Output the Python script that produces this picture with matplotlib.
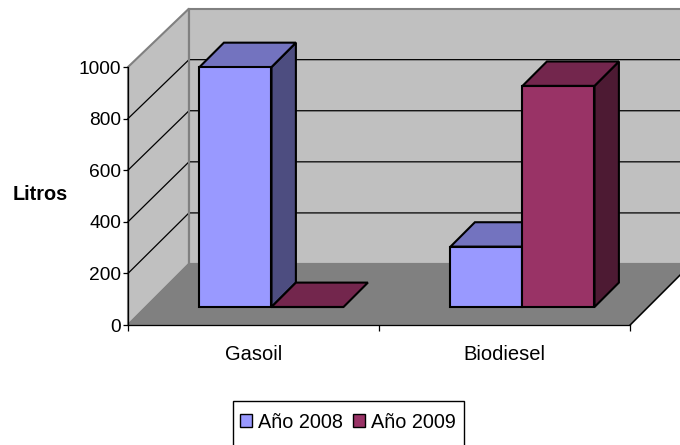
import matplotlib
matplotlib.use("Agg")
import matplotlib.pyplot as plt
from matplotlib.patches import Polygon, Rectangle

plt.rcParams["font.family"] = ["Liberation Sans", "DejaVu Sans"]

# ===================== data =====================
categories = ["Gasoil", "Biodiesel"]
series_names = ["Año 2008", "Año 2009"]
values_2008 = [930, 234]
values_2009 = [0, 857]
y_ticks = [0, 200, 400, 600, 800, 1000]

# ===================== colours =====================
WALL = "#C0C0C0"
FLOOR = "#808080"
FACES_2008 = {"front": "#9999FF", "top": "#7373BF", "side": "#4D4D80"}
FACES_2009 = {"front": "#993366", "top": "#73264D", "side": "#4D1A33"}

# ===================== oblique projection =====================
DX = 61 / 251          # category units per unit of depth
DY = 61 / 258 * 1000   # value units per unit of depth
BACK_SCALE = 0.99      # back wall is a bit shorter than the front plane
BAR_WIDTH = 72 / 251
BAR_START = 0.295
BAR_DEPTH = 0.40


def pt(x, v, d):
    return (x + d * DX, v + d * DY)


def back(x, v):
    return pt(x, v * BACK_SCALE, 1)


def face(ax, pts, color, edge="black", lw=1.5, z=3):
    ax.add_patch(Polygon(pts, closed=True, facecolor=color, edgecolor=edge,
                         linewidth=lw, joinstyle="miter", clip_on=False, zorder=z))


def draw_bar(ax, x0, value, colors, z):
    x1 = x0 + BAR_WIDTH
    d0, d1 = BAR_START, BAR_START + BAR_DEPTH
    if value > 0:
        face(ax, [pt(x1, 0, d0), pt(x1, 0, d1), pt(x1, value, d1), pt(x1, value, d0)],
             colors["side"], z=z)
    face(ax, [pt(x0, value, d0), pt(x1, value, d0), pt(x1, value, d1), pt(x0, value, d1)],
         colors["top"], z=z)
    face(ax, [pt(x0, 0, d0), pt(x1, 0, d0), pt(x1, value, d0), pt(x0, value, d0)],
         colors["front"], z=z)
    return x1


W, H = 680, 445
fig = plt.figure(figsize=(W / 100, H / 100), dpi=100)
ax = fig.add_axes([128 / W, (H - 325) / H, 502 / W, 258 / H])
ax.set_xlim(0, 2)
ax.set_ylim(0, 1000)
ax.patch.set_visible(False)

# ===================== walls and floor =====================
top = y_ticks[-1]
face(ax, [pt(0, 0, 0), back(0, 0), back(0, top), pt(0, top, 0)], WALL, edge=FLOOR, z=1)
face(ax, [back(0, 0), back(2, 0), back(2, top), back(0, top)], WALL, edge=FLOOR, z=1)
face(ax, [pt(0, 0, 0), pt(2, 0, 0), back(2, 0), back(0, 0)], FLOOR, edge=FLOOR, z=1.1)

# black edge of the floor on the right
x_e, y_e = zip(pt(2, 0, 0), back(2, 0))
ax.plot(x_e, y_e, color="black", lw=1, clip_on=False, zorder=1.2)

for v in y_ticks[1:-1]:
    xs, ys = zip(pt(0, v, 0), back(0, v), back(2, v))
    ax.plot(xs, ys, color="black", lw=0.9, clip_on=False, zorder=1.5)

# back corner stays grey over the gridlines
x_c, y_c = zip(back(0, 0), back(0, top))
ax.plot(x_c, y_c, color=FLOOR, lw=1.5, clip_on=False, zorder=1.6)

# ===================== bars =====================
for i in range(len(categories)):
    start = i + (1 - 2 * BAR_WIDTH) / 2
    mid = draw_bar(ax, start, values_2008[i], FACES_2008, 3 + i)
    draw_bar(ax, mid, values_2009[i], FACES_2009, 3.5 + i)

# ===================== axes =====================
for s in ["top", "right"]:
    ax.spines[s].set_visible(False)
ax.spines["left"].set_zorder(2)
ax.spines["bottom"].set_zorder(2)
ax.spines["left"].set_linewidth(0.9)
ax.spines["bottom"].set_linewidth(0.9)

ax.set_yticks(y_ticks)
ax.set_yticklabels([str(v) for v in y_ticks], fontsize=13.8)
ax.tick_params(axis="y", length=3.5, width=0.9, pad=1.5)

ax.set_xticks([0, 1, 2])
ax.set_xticklabels(["", "", ""])
ax.tick_params(axis="x", which="major", length=4.5, width=0.9)
ax.set_xticks([0.5, 1.5], minor=True)
ax.set_xticklabels(categories, minor=True, fontsize=14.5)
ax.tick_params(axis="x", which="minor", length=0, pad=14.5)

ax.set_ylabel("Litros", rotation=0, fontsize=14.3, fontweight="bold", ha="center", va="center")
ax.yaxis.set_label_coords((40 - 128) / 502, (325 - 195) / 258)

# ===================== legend =====================
handles = [Rectangle((0, 0), 1, 1, facecolor=FACES_2008["front"], edgecolor="black", lw=1),
           Rectangle((0, 0), 1, 1, facecolor=FACES_2009["front"], edgecolor="black", lw=1)]
fig.legend(handles, series_names, loc="center", bbox_to_anchor=(348 / W, (H - 422) / H),
           ncol=2, fontsize=14.3, frameon=False,
           handlelength=0.6, handleheight=0.6, handletextpad=0.3, columnspacing=0.5,
           borderpad=0, borderaxespad=0)

# frame runs off the bottom of the picture
fig.add_artist(Rectangle((232.5 / W, -10 / H), 231.5 / W, (H - 401 + 10) / H,
                         transform=fig.transFigure, facecolor="none",
                         edgecolor="black", linewidth=1))

fig.savefig("out.png", dpi=100, facecolor="white")
